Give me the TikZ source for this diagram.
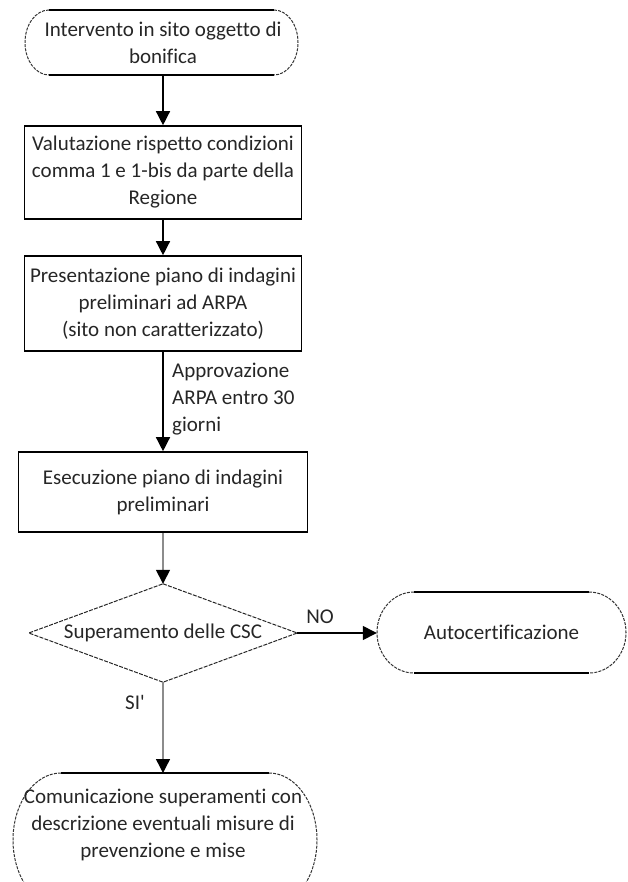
\documentclass[tikz,border=0pt]{standalone}
\usepackage{fontspec}
% plain family: no TeX quote mapping, no common ligatures
\newfontfamily\chartfont{Carlito}[Ligatures=NoCommon]
\usetikzlibrary{arrows.meta}

\tikzset{
  lbl/.style={font=\chartfont\fontsize{21}{27}\selectfont, align=center, inner sep=0pt, text=black!85},
  procbox/.style={draw=black, line width=1.6pt, lbl},
  termtext/.style={lbl, minimum width=#1},
  edge/.style={line width=1.3pt},
  side/.style={line width=1pt, dash pattern=on 3pt off 1.2pt, black!80},
  decisionedge/.style={line width=1pt, dash pattern=on 4pt off 1.3pt, black!85},
  flow/.style={line width=1.4pt, -{Triangle[width=14pt,length=14pt]}},
  greyflow/.style={flow, draw=black!45, -{Triangle[width=14pt,length=14pt,fill=black,color=black]}},
}

% terminal outline: straight top and bottom, elliptic sides
% #1 left, #2 right, #3 top, #4 bottom, #5 side x-radius
\newcommand\terminalshape[5]{%
  \draw[edge] (#1+#5,#3) -- (#2-#5,#3);
  \draw[edge] (#1+#5,#4) -- (#2-#5,#4);
  \draw[side] (#1+#5,#3) arc[start angle=270, end angle=90, x radius=#5, y radius={(#4-#3)/2}];
  \draw[side] (#2-#5,#3) arc[start angle=270, end angle=450, x radius=#5, y radius={(#4-#3)/2}];
}

\begin{document}
\begin{tikzpicture}[x=1pt,y=-1pt]
\useasboundingbox (0,0) rectangle (627,882);
\clip (0,0) rectangle (627,882);

% start terminal
\terminalshape{25}{298}{10}{75}{24}
\node[termtext=273pt, minimum height=65pt] (start) at (163,42.5)
  {Intervento in sito oggetto di\\bonifica};

% process boxes
\node[procbox, minimum width=277pt, minimum height=93pt] (valut) at (163,172.5)
  {Valutazione rispetto condizioni\\comma 1 e 1-bis da parte della\\Regione};
\node[procbox, minimum width=277pt, minimum height=95pt] (piano) at (163,303.5)
  {Presentazione piano di indagini\\preliminari ad ARPA\\(sito non caratterizzato)};
\node[procbox, minimum width=289pt, minimum height=80pt] (esec) at (163,492)
  {Esecuzione piano di indagini\\preliminari};

% decision: the tips are the side midpoints of the node box
\node[lbl, minimum width=268pt, minimum height=98pt] (csc) at (163,633)
  {Superamento delle CSC};
\draw[decisionedge] (csc.north) -- (csc.east) -- (csc.south) -- (csc.west) -- cycle;

% outcome terminals
\terminalshape{377}{626}{592}{673}{37}
\node[termtext=249pt, minimum height=81pt] (auto) at (501.5,632.5)
  {Autocertificazione};

\terminalshape{13}{317}{773}{907}{48}
\node[lbl, anchor=north, inner ysep=16pt] (comm) at (163,773)
  {Comunicazione superamenti con\\descrizione eventuali misure di\\prevenzione e mise};

% connectors
\draw[flow] (start) -- (valut);
\draw[flow] (valut) -- (piano);
\draw[flow] (piano) -- (esec);
\draw[greyflow] (esec) -- (csc.north);
\draw[flow] (csc.east) -- (csc.east -| auto.west);
\draw[greyflow] (csc.south) -- (comm.north);

% connector labels
\node[lbl, align=left, anchor=west] (appr) at (172,399)
  {Approvazione\\ARPA entro 30\\giorni};
\node[lbl] (no) at (320,617) {NO};
\node[lbl] (si) at (135,702) {SI'};
\end{tikzpicture}
\end{document}
